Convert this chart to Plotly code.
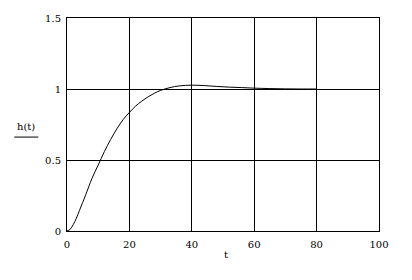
import plotly.graph_objects as go

t_vals = [0, 1, 2, 3, 4, 5, 6, 8, 10, 12, 14, 16, 18, 20, 22, 24, 26, 28, 30,
          33, 36, 40, 44, 48, 52, 56, 60, 65, 70, 75, 80]
h_vals = [0, 0.012, 0.045, 0.09, 0.145, 0.2, 0.255, 0.37, 0.465, 0.56, 0.645,
          0.72, 0.785, 0.835, 0.88, 0.915, 0.945, 0.97, 0.99,
          1.01, 1.022, 1.027, 1.024, 1.018, 1.013, 1.01, 1.006, 1.003, 1.001, 1.0, 1.0]

x_ticks = [0, 20, 40, 60, 80, 100]
x_labels = ["0", "20", "40", "60", "80", "100"]
y_ticks = [0, 0.5, 1, 1.5]
y_labels = ["0", "0.5", "1", "1.5"]

font = dict(family="DejaVu Serif", size=10, color="black")

fig = go.Figure()
fig.add_trace(go.Scatter(x=t_vals, y=h_vals, mode="lines",
                         line=dict(color="black", width=1, shape="spline"),
                         showlegend=False, hoverinfo="skip"))

fig.update_layout(
    width=412, height=280,
    margin=dict(l=67, r=33, t=15, b=49),
    paper_bgcolor="white", plot_bgcolor="white",
    font=font,
    xaxis=dict(range=[0, 100], tickvals=x_ticks, ticktext=x_labels,
               showgrid=True, gridcolor="black", gridwidth=1,
               showline=True, linecolor="black", linewidth=1, mirror=True,
               zeroline=False, ticks="", ticklabelstandoff=4,
               tickfont=font, fixedrange=True),
    yaxis=dict(range=[0, 1.5], tickvals=y_ticks, ticktext=y_labels,
               showgrid=True, gridcolor="black", gridwidth=1,
               showline=True, linecolor="black", linewidth=1, mirror=True,
               zeroline=False, ticks="", ticklabelstandoff=3,
               tickfont=font, fixedrange=True),
    annotations=[
        dict(text="t", xref="paper", yref="paper", x=0.51, y=-0.112,
             showarrow=False, font=font, xanchor="center", yanchor="middle"),
        dict(text="h(t)", xref="paper", yref="paper", x=-0.133, y=0.49,
             showarrow=False, font=font, xanchor="center", yanchor="middle"),
    ],
    shapes=[
        dict(type="line", xref="paper", yref="paper", x0=-0.169, x1=-0.092,
             y0=0.441, y1=0.441, line=dict(color="black", width=1)),
    ],
)

fig.write_html("out.html")
